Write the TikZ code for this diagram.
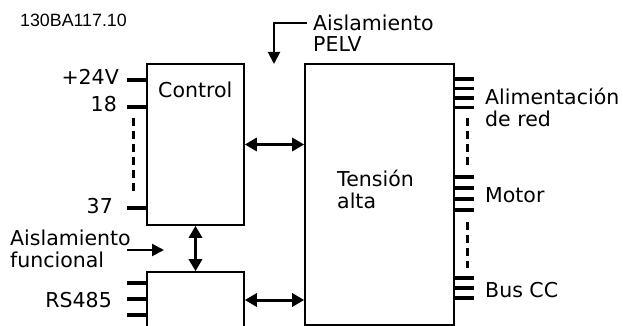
\documentclass[tikz,border=0pt]{standalone}
\usepackage{fontspec}
\setmainfont{DejaVu Sans}
\newfontfamily\codefont{Liberation Sans}
\usepackage{tikz}
\usetikzlibrary{arrows.meta,calc,positioning}

\begin{document}
\begin{tikzpicture}[x=1pt,y=-1pt,
  blk/.style={draw, line width=1.6pt, inner sep=0pt},
  txt/.style={font=\fontsize{20.5}{21.5}\selectfont, inner sep=0pt, align=left},
  term/.style={line width=3.5pt},
  gap/.style={line width=3pt, dash pattern=on 8pt off 5pt},
  dbl/.style={line width=3pt, {Triangle[length=12pt,width=13pt]}-{Triangle[length=12pt,width=13pt]}},
  sgl/.style={line width=2pt, -{Triangle[length=12pt,width=12pt]}}]
  \useasboundingbox (0,0) rectangle (623,326);
  \clip (0,0) rectangle (623,326);
  % blocks
  \node[blk, minimum width=97pt, minimum height=161pt] (ctrl)  at (195.5,144.5) {};
  \node[blk, minimum width=97pt, minimum height=56pt]  (iface) at (195.5,300) {};
  \node[blk, minimum width=149pt, minimum height=261pt] (hv)   at (379.5,194.5) {};
  \node[txt, anchor=base west] (ctrltxt) at (158,98) {Control};
  \node[txt, anchor=base west] (hvtxt) at (337,208) {Tensión\\alta};
  \node[anchor=base west, inner sep=0pt, font=\codefont\fontsize{17.8}{19}\selectfont] (code) at (20,27) {130BA117.10};
  % control terminals
  \foreach \n/\y in {a/80, b/107, c/208} {
    \coordinate (ct\n) at (127,\y);
    \draw[term] (ct\n) -- (ct\n -| ctrl.west);
  }
  \coordinate (cd1) at (133,118);
  \coordinate (cd2) at (133,193);
  \draw[gap] (cd1) -- (cd2);
  \node[txt, anchor=base east] (v24) at (119,85) {+24V};
  \node[txt, anchor=base east] (v18) at (117,111) {18};
  \node[txt, anchor=base east] (v37) at (113,213) {37};
  % RS485 terminals
  \foreach \n/\y in {a/283, b/299, c/315} {
    \coordinate (rs\n) at (127,\y);
    \draw[term] (rs\n) -- (rs\n -| iface.west);
  }
  \node[txt, anchor=base east] (rstxt) at (112,307) {RS485};
  % power terminals
  \foreach \n/\y in {a/79, b/88.5, c/98, d/107.5, e/177, f/188, g/199, h/210, i/278, j/288, k/298} {
    \coordinate (pt\n) at (474,\y);
    \draw[term] (pt\n) -- (pt\n -| hv.east);
  }
  \coordinate (pd1) at (467,118);
  \coordinate (pd2) at (467,165);
  \coordinate (pd3) at (467,222);
  \coordinate (pd4) at (467,268);
  \draw[gap] (pd1) -- (pd2) (pd3) -- (pd4);
  \node[txt, anchor=base west] (mains) at (485,126) {Alimentación\\de red};
  \node[txt, anchor=base west] (motor) at (485,202) {Motor};
  \node[txt, anchor=base west] (dcbus) at (485,297) {Bus CC};
  % links
  \draw[dbl] (ctrl.east) -- (ctrl.east -| hv.west);
  \draw[dbl] (iface.east) -- (iface.east -| hv.west);
  \draw[dbl] (ctrl.south) -- (iface.north);
  % isolation marks
  \node[txt, anchor=base west] (funciso) at (10,267) {Aislamiento\\funcional};
  \coordinate (fa1) at (127,250);
  \coordinate (fa2) at (164,250);
  \draw[sgl] (fa1) -- (fa2);
  \node[txt, anchor=base west] (pelv) at (313,52) {Aislamiento\\PELV};
  \coordinate (pa1) at (307,23);
  \coordinate (pa2) at (274,64);
  \draw[sgl] (pa1) -| (pa2);
\end{tikzpicture}
\end{document}
